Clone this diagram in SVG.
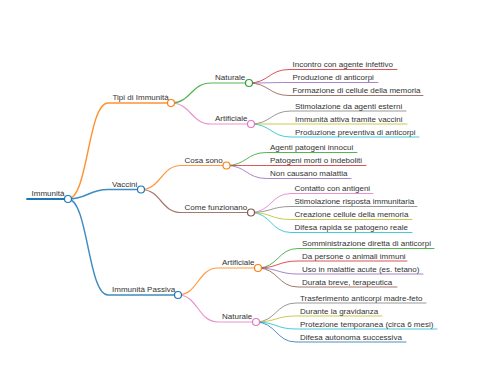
<svg xmlns="http://www.w3.org/2000/svg" width="480" height="384" viewBox="0 0 480 384">
<style>
text{font-family:"Liberation Sans",Arial,sans-serif;font-size:8px;fill:#333}
path{fill:none;stroke-linecap:round}
.l0{stroke-width:1.8}
.l1{stroke-width:1.4;stroke-opacity:.85}
.l2{stroke-width:1.2;stroke-opacity:.8}
.l3{stroke-width:1;stroke-opacity:.8}
circle{fill:#fff;stroke-width:1.2}
.blue{stroke:#1f77b4}.orange{stroke:#ff7f0e}.green{stroke:#2ca02c}.red{stroke:#d62728}.purple{stroke:#9467bd}.brown{stroke:#8c564b}.pink{stroke:#e377c2}.gray{stroke:#7f7f7f}.olive{stroke:#bcbd22}.cyan{stroke:#17becf}
</style>
<rect width="480" height="384" fill="#fff"/>
<g id="connectors">
<path class="l0 blue" d="M27,199H68"/>
<path class="l1 orange" d="M68,199C88,199 88,103 108,103H171"/>
<path class="l1 blue" d="M68,199C88,199 88,189.5 108,189.5H141"/>
<path class="l1 blue" d="M68,199C88,199 88,295 108,295H178"/>
<path class="l2 green" d="M171,103C191,103 191,83 211,83H249"/>
<path class="l2 pink" d="M171,103C191,103 191,124 211,124H251"/>
<path class="l2 orange" d="M141,189.5C161,189.5 161,165.5 181,165.5H226.5"/>
<path class="l2 brown" d="M141,189.5C161,189.5 161,212.5 181,212.5H251"/>
<path class="l2 orange" d="M178,295C198,295 198,268 218,268H258"/>
<path class="l2 pink" d="M178,295C198,295 198,322 218,322H256"/>
<path class="l3 red" d="M249,83C269,83 269,69.5 289,69.5H397"/>
<path class="l3 purple" d="M249,83C269,83 269,82.5 289,82.5H378"/>
<path class="l3 brown" d="M249,83C269,83 269,95.5 289,95.5H423"/>
<path class="l3 gray" d="M251,124C271,124 271,111 291,111H406"/>
<path class="l3 olive" d="M251,124C271,124 271,124 291,124H407"/>
<path class="l3 cyan" d="M251,124C271,124 271,137 291,137H419"/>
<path class="l3 green" d="M226.5,165.5C246.5,165.5 246.5,152.5 266.5,152.5H357"/>
<path class="l3 red" d="M226.5,165.5C246.5,165.5 246.5,165.5 266.5,165.5H366"/>
<path class="l3 purple" d="M226.5,165.5C246.5,165.5 246.5,178.5 266.5,178.5H351"/>
<path class="l3 pink" d="M251,212.5C271,212.5 271,193.5 291,193.5H373"/>
<path class="l3 gray" d="M251,212.5C271,212.5 271,206.5 291,206.5H417"/>
<path class="l3 olive" d="M251,212.5C271,212.5 271,219.5 291,219.5H412"/>
<path class="l3 cyan" d="M251,212.5C271,212.5 271,232.5 291,232.5H412"/>
<path class="l3 green" d="M258,268C278,268 278,248.5 298,248.5H434"/>
<path class="l3 red" d="M258,268C278,268 278,261 298,261H407"/>
<path class="l3 purple" d="M258,268C278,268 278,274 298,274H423"/>
<path class="l3 brown" d="M258,268C278,268 278,287 298,287H397"/>
<path class="l3 gray" d="M256,322C276,322 276,303 296,303H426"/>
<path class="l3 olive" d="M256,322C276,322 276,316 296,316H382"/>
<path class="l3 cyan" d="M256,322C276,322 276,329 296,329H437"/>
<path class="l3 blue" d="M256,322C276,322 276,342 296,342H406"/>
</g>
<g id="n-root"><text x="31.5" y="196">Immunità</text><circle class="blue" cx="68" cy="199" r="3.5"/></g>
<g id="n-tipi"><text x="112.5" y="100">Tipi di Immunità</text><circle class="orange" cx="171" cy="103" r="3.5"/></g>
<g id="n-vaccini"><text x="112" y="186.5">Vaccini</text><circle class="blue" cx="141" cy="189.5" r="3.5"/></g>
<g id="n-passiva"><text x="112" y="292">Immunità Passiva</text><circle class="blue" cx="178" cy="295" r="3.5"/></g>
<g id="n-naturale"><text x="215" y="80">Naturale</text><circle class="green" cx="249" cy="83" r="3.5"/></g>
<g id="n-artificiale"><text x="215" y="121">Artificiale</text><circle class="pink" cx="251" cy="124" r="3.5"/></g>
<g id="n-cosa"><text x="184.5" y="162.5">Cosa sono</text><circle class="orange" cx="226.5" cy="165.5" r="3.5"/></g>
<g id="n-come"><text x="184.5" y="209.5">Come funzionano</text><circle class="brown" cx="251" cy="212.5" r="3.5"/></g>
<g id="n-artificiale-p"><text x="222" y="265">Artificiale</text><circle class="orange" cx="258" cy="268" r="3.5"/></g>
<g id="n-naturale-p"><text x="222" y="319">Naturale</text><circle class="pink" cx="256" cy="322" r="3.5"/></g>
<g id="l1"><text x="292.5" y="67">Incontro con agente infettivo</text></g>
<g id="l2"><text x="292.5" y="80">Produzione di anticorpi</text></g>
<g id="l3"><text x="292.5" y="93">Formazione di cellule della memoria</text></g>
<g id="l4"><text x="295" y="108.5">Stimolazione da agenti esterni</text></g>
<g id="l5"><text x="295" y="121.5">Immunità attiva tramite vaccini</text></g>
<g id="l6"><text x="295" y="134.5">Produzione preventiva di anticorpi</text></g>
<g id="l7"><text x="270" y="150">Agenti patogeni innocui</text></g>
<g id="l8"><text x="270" y="163">Patogeni morti o indeboliti</text></g>
<g id="l9"><text x="270" y="176">Non causano malattia</text></g>
<g id="l10"><text x="294.5" y="191">Contatto con antigeni</text></g>
<g id="l11"><text x="294.5" y="204">Stimolazione risposta immunitaria</text></g>
<g id="l12"><text x="294.5" y="217">Creazione cellule della memoria</text></g>
<g id="l13"><text x="294.5" y="230">Difesa rapida se patogeno reale</text></g>
<g id="l14"><text x="302" y="246">Somministrazione diretta di anticorpi</text></g>
<g id="l15"><text x="302" y="258.5">Da persone o animali immuni</text></g>
<g id="l16"><text x="302" y="271.5">Uso in malattie acute (es. tetano)</text></g>
<g id="l17"><text x="302" y="284.5">Durata breve, terapeutica</text></g>
<g id="l18"><text x="300" y="300.5">Trasferimento anticorpi madre-feto</text></g>
<g id="l19"><text x="300" y="313.5">Durante la gravidanza</text></g>
<g id="l20"><text x="300" y="326.5">Protezione temporanea (circa 6 mesi)</text></g>
<g id="l21"><text x="300" y="339.5">Difesa autonoma successiva</text></g>
</svg>
